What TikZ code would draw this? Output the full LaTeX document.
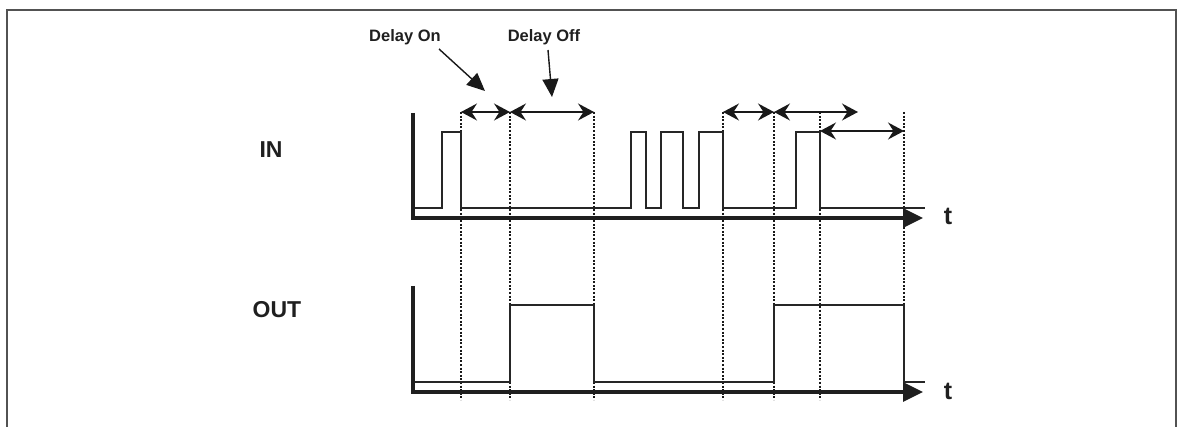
\documentclass[tikz,border=0pt]{standalone}
\usepackage{fontspec}
\setmainfont{Liberation Sans}
\usetikzlibrary{arrows.meta}
\begin{document}
\begin{tikzpicture}[x=1pt,y=-1pt,
  frame/.style={draw=black!68,line width=2pt},
  sig/.style={draw=black!85,line width=1.6pt,line join=miter},
  axisline/.style={draw=black!88,line width=3.2pt,line join=miter,-{Triangle[length=20pt,width=19pt]}},
  gridline/.style={draw=black!90,line width=1.3pt,dash pattern=on 2pt off 1.6pt},
  span/.style={draw=black!90,line width=1.4pt,{Stealth[length=16pt,width=17pt,inset=5.5pt]}-{Stealth[length=16pt,width=17pt,inset=5.5pt]}},
  pointer/.style={draw=black!90,line width=1.4pt,-{Triangle[length=18pt,width=16pt]}},
  smalllbl/.style={font=\bfseries\fontsize{16.5}{19}\selectfont,inner sep=0pt,text=black!88},
  biglbl/.style={font=\bfseries\fontsize{23}{26}\selectfont,inner sep=0pt,text=black!88},
  tlbl/.style={font=\bfseries\fontsize{25}{28}\selectfont,inner sep=0pt,text=black!88}
]
\useasboundingbox (0,0) rectangle (1181,427);
% frame
\draw[frame] (7,427) -- (7,10) -- (1176,10) -- (1176,427);

% labels
\node[biglbl] (in) at (271,150) {IN};
\node[biglbl] (out) at (277,310) {OUT};
\node[tlbl] (t1) at (948,216) {t};
\node[tlbl] (t2) at (948,391) {t};
\node[smalllbl] (don) at (405,37) {Delay On};
\node[smalllbl] (doff) at (544,37) {Delay Off};

% dotted guide lines
\foreach \x/\n in {461/a,510/b,594/c,723/d,774/e,820/f,904/g}{
  \coordinate (top\n) at (\x,112);
  \coordinate (bot\n) at (\x,400);
  \draw[gridline] (top\n) -- (bot\n);
}

% IN signal
\draw[sig] (415,208) -- (442,208) -- (442,132) -- (461,132) -- (461,208)
  -- (631,208) -- (631,132) -- (646,132) -- (646,208)
  -- (661,208) -- (661,132) -- (683,132) -- (683,208)
  -- (699,208) -- (699,132) -- (723,132) -- (723,208)
  -- (796,208) -- (796,132) -- (820,132) -- (820,208) -- (925,208);
% IN axes
\draw[axisline] (413,113) -- (413,218) -- (923,218);

% OUT signal
\draw[sig] (415,382) -- (510,382) -- (510,305) -- (594,305) -- (594,382)
  -- (774,382) -- (774,305) -- (904,305) -- (904,382) -- (925,382);
% OUT axes
\draw[axisline] (413,286) -- (413,392) -- (923,392);

% delay spans
\draw[span] (topa) -- (topb);
\draw[span] (topb) -- (topc);
\draw[span] (topd) -- (tope);
\coordinate (spanend) at (858,112);
\draw[span] (tope) -- (spanend);
\coordinate (f2) at (820,131);
\coordinate (g2) at (904,131);
\draw[span] (f2) -- (g2);

% pointers
\coordinate (dontip) at (485,91);
\coordinate (dofftip) at (552,97);
\draw[pointer] (439,49) -- (dontip);
\draw[pointer] (548,50) -- (dofftip);
\end{tikzpicture}
\end{document}
